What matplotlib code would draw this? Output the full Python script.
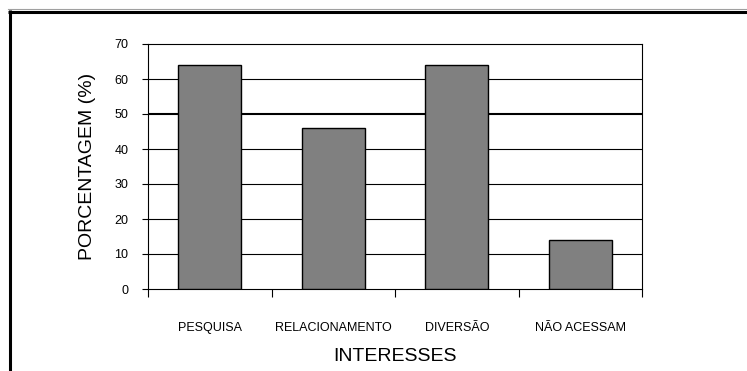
import matplotlib
matplotlib.use("Agg")
import matplotlib.pyplot as plt
from matplotlib.lines import Line2D
import numpy as np

categories = ["PESQUISA", "RELACIONAMENTO", "DIVERSÃO", "NÃO ACESSAM"]
values = [64, 46, 64, 14]
yticks = [0, 10, 20, 30, 40, 50, 60, 70]

plt.rcParams['font.family'] = ['Liberation Sans', 'DejaVu Sans']

W, H = 747, 371
fig = plt.figure(figsize=(W / 100, H / 100), dpi=100)
fig.patch.set_facecolor("white")

ax = fig.add_axes([148 / W, 1 - 289 / H, (642 - 148) / W, (289 - 44) / H])

x = np.arange(len(categories))
ax.bar(x, values, width=0.51, color="#808080", edgecolor="black", linewidth=1.0, zorder=3)

ax.set_xlim(-0.5, len(categories) - 0.5)
ax.set_ylim(0, 70)

# gridlines
for v in yticks[1:-1]:
    ax.axhline(v, color="black", linewidth=1.5 if v == 50 else 0.8, zorder=1)

for s in ax.spines.values():
    s.set_color("black")
    s.set_linewidth(0.8)

ax.set_yticks(yticks)
ax.set_yticklabels([str(v) for v in yticks], fontsize=9)
ax.tick_params(axis="y", length=4, width=0.8, pad=10, direction="out")

# category boundaries as major ticks, labels at centres as minor ticks
ax.set_xticks(np.arange(-0.5, len(categories)))
ax.set_xticklabels([])
ax.tick_params(axis="x", which="major", length=6, width=0.8, direction="out")
ax.set_xticks(x, minor=True)
ax.set_xticklabels(categories, minor=True, fontsize=9)
ax.tick_params(axis="x", which="minor", length=0, pad=24)

ax.set_ylabel("PORCENTAGEM (%)", fontsize=14, labelpad=13)
ax.set_xlabel("INTERESSES", fontsize=14, labelpad=10)

# outer frame
fig.add_artist(Line2D([8 / W, 1], [1 - 9 / H] * 2, transform=fig.transFigure,
                      color="#a0a0a0", linewidth=0.8))
fig.add_artist(Line2D([8 / W, 1], [1 - 11.5 / H] * 2, transform=fig.transFigure,
                      color="black", linewidth=2.2, solid_capstyle="butt"))
fig.add_artist(Line2D([9.5 / W] * 2, [1 - 10 / H, 0], transform=fig.transFigure,
                      color="black", linewidth=2.2, solid_capstyle="butt"))

fig.savefig("out.png", dpi=100)
